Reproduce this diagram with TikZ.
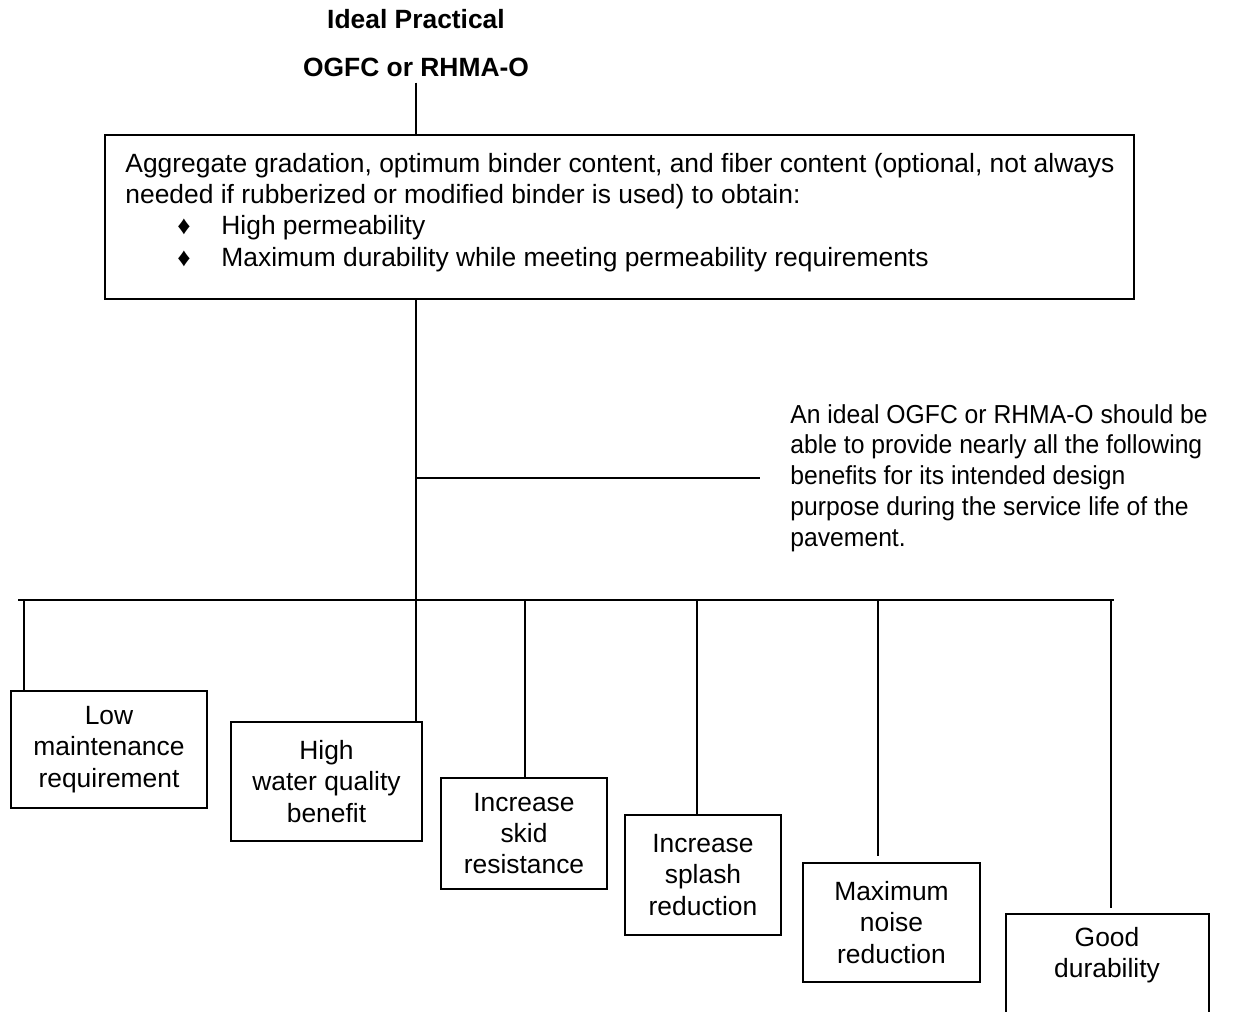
\documentclass[tikz,border=0pt]{standalone}
\usepackage{fontspec}
\setmainfont{Liberation Sans}
\newfontfamily\narrowfont[FakeStretch=0.95]{Liberation Sans}
\newcommand{\bitem}[1]{\hspace*{26pt}\makebox[22pt][l]{\fontsize{13}{13}\selectfont ♦}#1}
\begin{document}
\begin{tikzpicture}[x=0.5pt,y=-0.5pt,inner sep=0pt,
  font=\fontsize{13.2}{15.6}\selectfont,
  conn/.style={line width=1.2pt},
  benefit/.style={draw,line width=0.6pt,align=center}]
\useasboundingbox (0,0) rectangle (1244,1012);

\node(title) at (416,19) {\bfseries Ideal Practical};
\node(ogfc) at (416,67) {\bfseries OGFC or RHMA-O};

\node(agg)[draw,line width=0.6pt,minimum width=514.5pt,minimum height=82pt] at (619.5,217) {};
\node(aggtext)[anchor=north west,align=left] at (125,153) {Aggregate gradation, optimum binder content, and fiber content (optional, not always\\
needed if rubberized or modified binder is used) to obtain:\\
\bitem{High permeability}\\
\bitem{Maximum durability while meeting permeability requirements}};

\node(note)[anchor=west,align=left,font=\narrowfont\fontsize{13}{15.4}\selectfont] at (790,478) {An ideal OGFC or RHMA-O should be\\able to provide nearly all the following\\benefits for its intended design\\purpose during the service life of the\\pavement.};

\node(low)[benefit,minimum width=98pt,minimum height=58.5pt] at (109,749.5) {Low\\maintenance\\requirement};
\node(high)[benefit,minimum width=95.5pt,minimum height=59.5pt] at (326.5,781.5) {High\\water quality\\benefit};
\node(skid)[benefit,minimum width=83pt,minimum height=55.5pt] at (524,833.5) {Increase\\skid\\resistance};
\node(splash)[benefit,minimum width=78pt,minimum height=60pt] at (703,875) {Increase\\splash\\reduction};
\node(noise)[benefit,minimum width=88.5pt,minimum height=59.5pt] at (891.5,922.5) {Maximum\\noise\\reduction};
\node(good)[align=center] at (1107,955) {Good\\durability};
\coordinate(gl) at (1006,1012);
\coordinate(gr) at (1209,1012);
\coordinate(gtop) at (1107,914);
\draw[line width=0.6pt] (gl) |- (gr |- gtop) -- (gr);

\draw[conn] (ogfc.south) ++(0,6) -- (ogfc.south |- agg.north);
\draw[conn] (ogfc.south |- agg.south) -- (ogfc.south |- high.north);
\draw[conn] (note.west -| ogfc.south) -- ([xshift=-15pt]note.west);

\coordinate(busl) at (18,600);
\coordinate(busr) at (1114,600);
\draw[conn] (busl) -- (busr);

\coordinate(dlow) at (24,600);
\coordinate(dskid) at (525,600);
\coordinate(dsplash) at (697,600);
\coordinate(dnoise) at (878,600);
\coordinate(dgood) at (1111,600);
\draw[conn] (dlow) -- (dlow |- low.north);
\draw[conn] (dskid) -- (dskid |- skid.north);
\draw[conn] (dsplash) -- (dsplash |- splash.north);
\draw[conn,shorten >=3pt] (dnoise) -- (dnoise |- noise.north);
\draw[conn,shorten >=3pt] (dgood) -- (dgood |- gtop);

\end{tikzpicture}
\end{document}
